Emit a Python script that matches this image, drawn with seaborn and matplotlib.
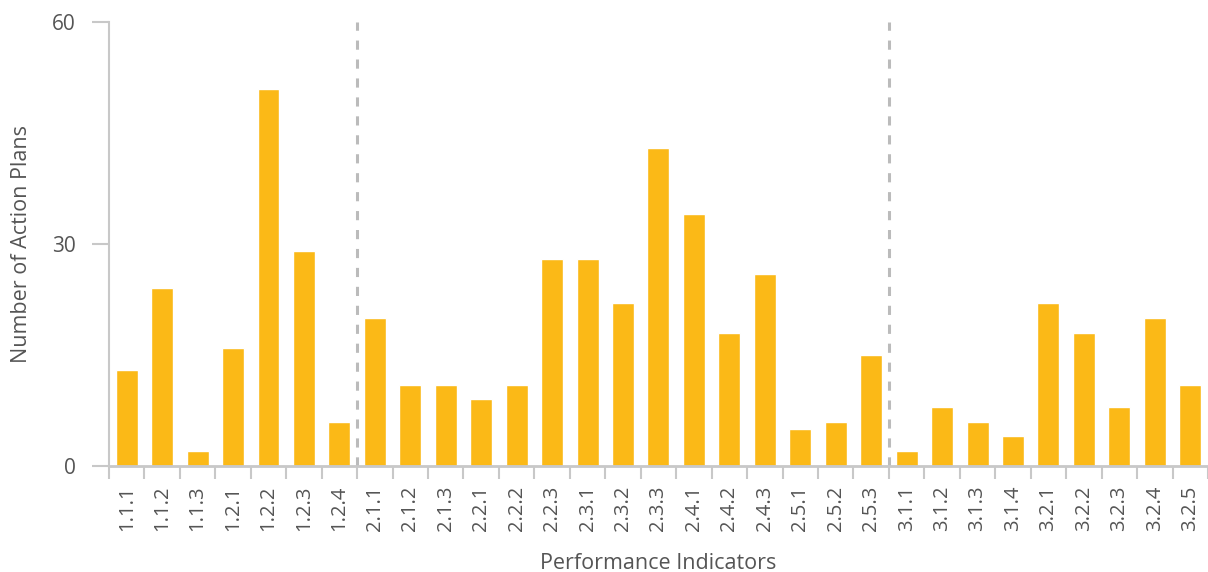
import matplotlib
matplotlib.use("Agg")
import matplotlib.pyplot as plt
import seaborn as sns
import pandas as pd
import numpy as np

categories = ["1.1.1", "1.1.2", "1.1.3", "1.2.1", "1.2.2", "1.2.3", "1.2.4",
              "2.1.1", "2.1.2", "2.1.3", "2.2.1", "2.2.2", "2.2.3", "2.3.1", "2.3.2", "2.3.3",
              "2.4.1", "2.4.2", "2.4.3", "2.5.1", "2.5.2", "2.5.3",
              "3.1.1", "3.1.2", "3.1.3", "3.1.4", "3.2.1", "3.2.2", "3.2.3", "3.2.4", "3.2.5"]
values = [13, 24, 2, 16, 51, 29, 6,
          20, 11, 11, 9, 11, 28, 28, 22, 43,
          34, 18, 26, 5, 6, 15,
          2, 8, 6, 4, 22, 18, 8, 20, 11]
y_ticks = [0, 30, 60]
group_breaks = ["2.1.1", "3.1.1"]

sns.set_theme(style="white")
plt.rcParams['font.family'] = ['Open Sans', 'DejaVu Sans']

df = pd.DataFrame({"indicator": categories, "plans": values})

fig = plt.figure(figsize=(12.08, 5.72), dpi=100)
ax = fig.add_axes([0.0902, 0.1853, 0.9098, 0.7762])

sns.barplot(data=df, x="indicator", y="plans", color="#FBB917", width=0.62,
            saturation=1, ax=ax, order=categories)

ax.set_xlim(-0.5, len(categories) - 0.5)
ax.set_ylim(0, 60)
ax.set_yticks(y_ticks)

text_color = "#555555"
axis_color = "#c8c8c8"

for b in group_breaks:
    xpos = categories.index(b) - 0.5
    ax.axvline(xpos, ymin=0, ymax=1, color="#bbbbbb", linestyle=(0, (3, 3.2)), linewidth=2.2, zorder=0)

for s in ["top", "right"]:
    ax.spines[s].set_visible(False)
ax.spines["left"].set_color(axis_color)
ax.spines["bottom"].set_color(axis_color)
ax.spines["left"].set_linewidth(1.5)
ax.spines["bottom"].set_linewidth(2)

ax.set_xticks(np.arange(len(categories)))
ax.set_xticklabels(categories, rotation=90, fontsize=14.5, color=text_color)
ax.set_xticks(np.arange(-0.5, len(categories) + 0.5, 1), minor=True)
ax.tick_params(axis="x", which="major", length=0, pad=14)
ax.tick_params(axis="x", which="minor", length=9, width=1.5, color=axis_color, direction="out", bottom=True)
ax.tick_params(axis="y", length=12, width=1.5, color=axis_color, labelsize=15, labelcolor=text_color, left=True, pad=12)

ax.set_xlabel("Performance Indicators", fontsize=15.5, color=text_color, labelpad=16)
ax.set_ylabel("Number of Action Plans", fontsize=15.5, color=text_color, labelpad=14)

fig.savefig("out.png", dpi=100)
